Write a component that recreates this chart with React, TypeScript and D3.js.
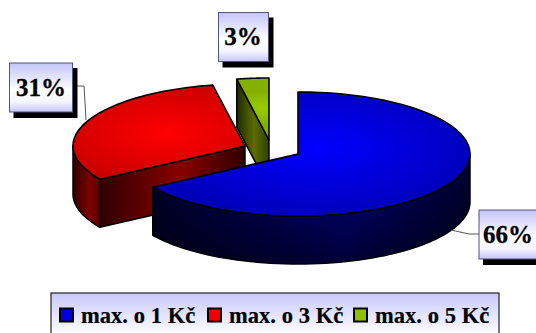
import React from "react";
import * as d3 from "d3";

// Share of answers per price rise category
const categories = ["max. o 1 Kč", "max. o 3 Kč", "max. o 5 Kč"];
const shares = [66, 31, 3];
const shareLabels = ["66%", "31%", "3%"];
const swatchColors = ["#0000e0", "#f00000", "#90c000"];

const W = 536;
const H = 333;
const RX = 172;
const RY = 62;
const DEPTH = 48;
const FONT = "'Liberation Serif', 'Times New Roman', serif";

// Exploded slice centres on the top plane of the pie
const centers: [number, number][] = [
  [298, 154],
  [245, 146],
  [269, 140],
];

const pie = d3.pie<number>().sort(null).value((d) => d)(shares);

const rim = (c: [number, number], a: number): [number, number] => [
  c[0] + RX * Math.sin(a),
  c[1] - RY * Math.cos(a),
];
const arcPts = (c: [number, number], a0: number, a1: number) =>
  d3.range(0, 65).map((i) => rim(c, a0 + ((a1 - a0) * i) / 64));
const line = d3.line();
const down = (pts: [number, number][]) =>
  pts.map(([x, y]) => [x, y + DEPTH] as [number, number]);

const topPath = (c: [number, number], a0: number, a1: number) =>
  line([c, ...arcPts(c, a0, a1)]) + "Z";
const outerWall = (c: [number, number], a0: number, a1: number) => {
  const pts = arcPts(c, a0, a1);
  return line([...pts, ...down(pts).reverse()]) + "Z";
};
const radialWall = (c: [number, number], a: number) => {
  const p = rim(c, a);
  return line([c, p, [p[0], p[1] + DEPTH], [c[0], c[1] + DEPTH]]) + "Z";
};

const Q = Math.PI / 2;

function Wall({ d, fill }: { d: string; fill: string }) {
  return <path d={d} fill={fill} stroke="#000" strokeWidth={1.5} strokeLinejoin="round" />;
}
function Top({ d, fill }: { d: string; fill: string }) {
  return <path d={d} fill={fill} stroke="#000" strokeWidth={1.6} strokeLinejoin="round" />;
}

function LabelBox({ x, y, w, h, tx, text }: { x: number; y: number; w: number; h: number; tx: number; text: string }) {
  return (
    <g>
      <rect x={x + 4} y={y + 5} width={w + 1} height={h + 1} fill="#000" />
      <rect x={x} y={y} width={w} height={h} fill="url(#boxFill)" stroke="#555577" strokeWidth={1} />
      <text
        x={tx}
        y={y + h / 2 + 8}
        textAnchor="middle"
        fontFamily={FONT}
        fontWeight="bold"
        fontSize={25}
        stroke="#000"
        strokeWidth={0.3}
        fill="#000"
      >
        {text}
      </text>
    </g>
  );
}

const vGrad = (id: string, stops: [number, string, number?][]) => (
  <linearGradient id={id} x1="0" y1="0" x2="0" y2="1">
    {stops.map(([o, c, a], i) => (
      <stop key={i} offset={o} stopColor={c} stopOpacity={a ?? 1} />
    ))}
  </linearGradient>
);
const hGrad = (id: string, x1: number, x2: number, stops: [number, string][]) => (
  <linearGradient id={id} gradientUnits="userSpaceOnUse" x1={x1} y1="0" x2={x2} y2="0">
    {stops.map(([o, c], i) => (
      <stop key={i} offset={o} stopColor={c} />
    ))}
  </linearGradient>
);
const rGrad = (id: string, cx: number, cy: number, r: number, inner: string, outer: string) => (
  <radialGradient
    id={id}
    gradientUnits="userSpaceOnUse"
    cx={0}
    cy={0}
    r={r}
    gradientTransform={`translate(${cx} ${cy}) scale(1 0.42)`}
  >
    <stop offset={0} stopColor={inner} />
    <stop offset={1} stopColor={outer} />
  </radialGradient>
);

export default function App() {
  const [blue, red, green] = pie;
  const legendX = [59, 207, 353];
  return (
    <svg
      width={W}
      height={H}
      viewBox={`0 0 ${W} ${H}`}
      style={{ position: "absolute", left: 0, top: 0, background: "#fff" }}
    >
      <defs>
        {vGrad("boxFill", [
          [0, "#c4c4fa"],
          [0.55, "#ffffff"],
          [0.8, "#f4f4ff"],
          [1, "#c4c4fa"],
        ])}
        {vGrad("legendFill", [
          [0, "#c8c8fa"],
          [0.85, "#ffffff"],
        ])}
        {vGrad("wallShade", [
          [0, "#000", 0],
          [1, "#000", 0.6],
        ])}
        {rGrad("blueTop", 318, 148, 190, "#0000ff", "#0000b0")}
        {rGrad("redTop", 168, 133, 125, "#ff0000", "#c80000")}
        {rGrad("greenTop", 262, 108, 40, "#98cc00", "#86b000")}
        {hGrad("blueWall", 154, 470, [
          [0, "#000030"],
          [0.6, "#000088"],
          [1, "#000034"],
        ])}
        {hGrad("redOuter", 73, 101, [
          [0, "#300000"],
          [0.6, "#800000"],
          [1, "#500000"],
        ])}
        {hGrad("redRadial", 101, 245, [
          [0, "#300000"],
          [0.55, "#880000"],
          [1, "#300000"],
        ])}
        {hGrad("greenRadial", 236, 269, [
          [0, "#1c2800"],
          [0.55, "#5c6c00"],
          [1, "#304000"],
        ])}
      </defs>

      {/* Green slice, furthest from the viewer */}
      <Wall d={radialWall(centers[2], green.startAngle)} fill="url(#greenRadial)" />
      <Top d={topPath(centers[2], green.startAngle, green.endAngle)} fill="url(#greenTop)" />

      {/* Red slice */}
      <Wall d={outerWall(centers[1], red.startAngle, Math.min(red.endAngle, 3 * Q))} fill="url(#redOuter)" />
      <Wall d={radialWall(centers[1], red.startAngle)} fill="url(#redRadial)" />
      <Top d={topPath(centers[1], red.startAngle, red.endAngle)} fill="url(#redTop)" />

      {/* Blue slice, nearest to the viewer */}
      <Wall d={outerWall(centers[0], Q, blue.endAngle)} fill="url(#blueWall)" />
      <path d={outerWall(centers[0], Q, blue.endAngle)} fill="url(#wallShade)" />
      <Top d={topPath(centers[0], blue.startAngle, blue.endAngle)} fill="url(#blueTop)" />

      {/* Leader lines */}
      <path d="M73,86H84L86,120" fill="none" stroke="#555" strokeWidth={1} />
      <path d="M451,230L469,234H479" fill="none" stroke="#555" strokeWidth={1} />

      <LabelBox x={9.5} y={63} w={63} h={49} tx={41} text={shareLabels[1]} />
      <LabelBox x={218.5} y={12.5} w={50} h={49} tx={243} text={shareLabels[2]} />
      <LabelBox x={479} y={210} w={70} h={49} tx={508} text={shareLabels[0]} />

      {/* Legend */}
      <rect x={51} y={293} width={448} height={50} fill="url(#legendFill)" stroke="#222" strokeWidth={1.2} />
      {categories.map((c, i) => (
        <g key={c}>
          <rect x={legendX[i] + 1} y={308.5} width={13} height={13} fill={swatchColors[i]} stroke="#000" strokeWidth={2} />
          <text
            x={legendX[i] + 22}
            y={323}
            fontFamily={FONT}
            fontWeight="bold"
            fontSize={22.5}
            wordSpacing={0.2}
            stroke="#000"
            strokeWidth={0.2}
            fill="#000"
          >
            {c}
          </text>
        </g>
      ))}
    </svg>
  );
}
